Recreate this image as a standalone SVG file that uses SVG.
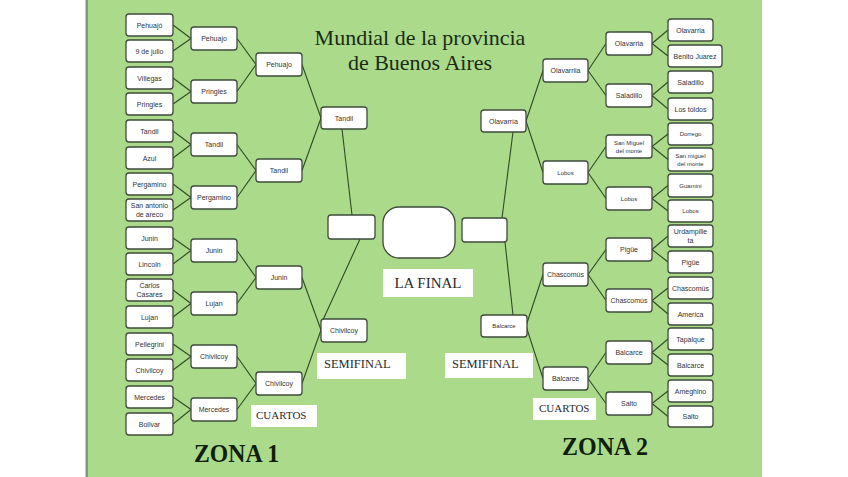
<svg xmlns="http://www.w3.org/2000/svg" width="848" height="477" viewBox="0 0 848 477">
<style>
.b{fill:#fff;stroke:#3f4b3c;stroke-width:1.3}
.t{font-family:"Liberation Sans",Arial,sans-serif;font-size:7px;fill:#333;text-anchor:middle}
.s{font-size:6px}
.c line{stroke:#2f4a24;stroke-width:1.1}
.lb{fill:#fff}
.sf{font-family:"Liberation Serif","Times New Roman",serif;fill:#2a2a2a}
.z{font-family:"Liberation Serif","Times New Roman",serif;font-weight:bold;fill:#0f1f0a}
</style>
<rect x="0" y="0" width="848" height="477" fill="#fff"/>
<rect x="86" y="0" width="676" height="477" fill="#abda8b"/>
<rect x="85.5" y="0" width="2.5" height="477" fill="#7d9a84"/>

<g id="title" class="sf" font-size="22" text-anchor="middle" fill="#1a2a14">
<text x="420" y="45" style="fill:#1a2a14">Mundial de la provincia</text>
<text x="420" y="70" style="fill:#1a2a14">de Buenos Aires</text>
</g>

<g id="connectors" class="c">
<line x1="173" y1="25" x2="191" y2="38.5"/><line x1="173" y1="51" x2="191" y2="38.5"/>
<line x1="173" y1="78" x2="191" y2="91.5"/><line x1="173" y1="104" x2="191" y2="91.5"/>
<line x1="173" y1="131" x2="191" y2="144.5"/><line x1="173" y1="158" x2="191" y2="144.5"/>
<line x1="173" y1="184" x2="191" y2="197.5"/><line x1="173" y1="210" x2="191" y2="197.5"/>
<line x1="173" y1="238" x2="191" y2="250.5"/><line x1="173" y1="264" x2="191" y2="250.5"/>
<line x1="173" y1="290" x2="191" y2="303.5"/><line x1="173" y1="317" x2="191" y2="303.5"/>
<line x1="173" y1="344" x2="191" y2="356.5"/><line x1="173" y1="370" x2="191" y2="356.5"/>
<line x1="173" y1="397" x2="191" y2="409.5"/><line x1="173" y1="424" x2="191" y2="409.5"/>
<line x1="237" y1="38.5" x2="256" y2="64.5"/><line x1="237" y1="91.5" x2="256" y2="64.5"/>
<line x1="237" y1="144.5" x2="256" y2="170.5"/><line x1="237" y1="197.5" x2="256" y2="170.5"/>
<line x1="237" y1="250.5" x2="256" y2="277.5"/><line x1="237" y1="303.5" x2="256" y2="277.5"/>
<line x1="237" y1="356.5" x2="256" y2="383.5"/><line x1="237" y1="409.5" x2="256" y2="383.5"/>
<line x1="302" y1="64.5" x2="321" y2="118"/><line x1="302" y1="170.5" x2="321" y2="118"/>
<line x1="302" y1="277.5" x2="321" y2="330"/><line x1="302" y1="383.5" x2="321" y2="330"/>
<line x1="342" y1="129" x2="352" y2="215"/><line x1="322" y1="322" x2="360" y2="239"/>
<line x1="652" y1="43.5" x2="668" y2="30"/><line x1="652" y1="43.5" x2="668" y2="56"/>
<line x1="652" y1="95.5" x2="668" y2="82"/><line x1="652" y1="95.5" x2="668" y2="109"/>
<line x1="652" y1="146.5" x2="668" y2="134"/><line x1="652" y1="146.5" x2="668" y2="159.5"/>
<line x1="652" y1="198.5" x2="668" y2="185.5"/><line x1="652" y1="198.5" x2="668" y2="211"/>
<line x1="652" y1="249.5" x2="668" y2="236"/><line x1="652" y1="249.5" x2="668" y2="262"/>
<line x1="652" y1="300.5" x2="668" y2="288"/><line x1="652" y1="300.5" x2="668" y2="314"/>
<line x1="652" y1="352.5" x2="668" y2="339"/><line x1="652" y1="352.5" x2="668" y2="365"/>
<line x1="652" y1="403.5" x2="668" y2="391"/><line x1="652" y1="403.5" x2="668" y2="416.5"/>
<line x1="588" y1="70.5" x2="606" y2="43.5"/><line x1="588" y1="70.5" x2="606" y2="95.5"/>
<line x1="588" y1="172.5" x2="606" y2="146.5"/><line x1="588" y1="172.5" x2="606" y2="198.5"/>
<line x1="588" y1="274.5" x2="606" y2="249.5"/><line x1="588" y1="274.5" x2="606" y2="300.5"/>
<line x1="588" y1="378.5" x2="606" y2="352.5"/><line x1="588" y1="378.5" x2="606" y2="403.5"/>
<line x1="526" y1="121" x2="543" y2="70.5"/><line x1="526" y1="121" x2="543" y2="172.5"/>
<line x1="526" y1="326" x2="543" y2="274.5"/><line x1="526" y1="326" x2="543" y2="378.5"/>
<line x1="513" y1="132" x2="502" y2="218"/><line x1="505" y1="242" x2="513" y2="315"/>
</g>

<!-- Zona 1 leaves -->
<g id="l1"><rect class="b" x="126" y="14" width="47" height="22" rx="3"/><text class="t" x="149.5" y="27.5">Pehuajó</text></g>
<g id="l2"><rect class="b" x="126" y="40" width="47" height="22" rx="3"/><text class="t" x="149.5" y="53.5">9 de julio</text></g>
<g id="l3"><rect class="b" x="126" y="67" width="47" height="22" rx="3"/><text class="t" x="149.5" y="80.5">Villegas</text></g>
<g id="l4"><rect class="b" x="126" y="93" width="47" height="22" rx="3"/><text class="t" x="149.5" y="106.5">Pringles</text></g>
<g id="l5"><rect class="b" x="126" y="120" width="47" height="22" rx="3"/><text class="t" x="149.5" y="133.5">Tandil</text></g>
<g id="l6"><rect class="b" x="126" y="147" width="47" height="22" rx="3"/><text class="t" x="149.5" y="160.5">Azul</text></g>
<g id="l7"><rect class="b" x="126" y="173" width="47" height="22" rx="3"/><text class="t" x="149.5" y="186.5">Pergamino</text></g>
<g id="l8"><rect class="b" x="126" y="199" width="47" height="22" rx="3"/><text class="t" x="149.5" y="208">San antonio</text><text class="t" x="149.5" y="217">de areco</text></g>
<g id="l9"><rect class="b" x="126" y="227" width="47" height="22" rx="3"/><text class="t" x="149.5" y="240.5">Junin</text></g>
<g id="l10"><rect class="b" x="126" y="253" width="47" height="22" rx="3"/><text class="t" x="149.5" y="266.5">Lincoln</text></g>
<g id="l11"><rect class="b" x="126" y="279" width="47" height="22" rx="3"/><text class="t" x="149.5" y="288">Carlos</text><text class="t" x="149.5" y="297">Casares</text></g>
<g id="l12"><rect class="b" x="126" y="306" width="47" height="22" rx="3"/><text class="t" x="149.5" y="319.5">Lujan</text></g>
<g id="l13"><rect class="b" x="126" y="333" width="47" height="22" rx="3"/><text class="t" x="149.5" y="346.5">Pellegrini</text></g>
<g id="l14"><rect class="b" x="126" y="359" width="47" height="22" rx="3"/><text class="t" x="149.5" y="372.5">Chivilcoy</text></g>
<g id="l15"><rect class="b" x="126" y="386" width="47" height="22" rx="3"/><text class="t" x="149.5" y="399.5">Mercedes</text></g>
<g id="l16"><rect class="b" x="126" y="413" width="47" height="22" rx="3"/><text class="t" x="149.5" y="426.5">Bolivar</text></g>
<!-- Zona 1 round 2 -->
<g id="la1"><rect class="b" x="191" y="27" width="46" height="23" rx="3"/><text class="t" x="214" y="41">Pehuajo</text></g>
<g id="la2"><rect class="b" x="191" y="80" width="46" height="23" rx="3"/><text class="t" x="214" y="94">Pringles</text></g>
<g id="la3"><rect class="b" x="191" y="133" width="46" height="23" rx="3"/><text class="t" x="214" y="147">Tandil</text></g>
<g id="la4"><rect class="b" x="191" y="186" width="46" height="23" rx="3"/><text class="t" x="214" y="200">Pergamino</text></g>
<g id="la5"><rect class="b" x="191" y="239" width="46" height="23" rx="3"/><text class="t" x="214" y="253">Junin</text></g>
<g id="la6"><rect class="b" x="191" y="292" width="46" height="23" rx="3"/><text class="t" x="214" y="306">Lujan</text></g>
<g id="la7"><rect class="b" x="191" y="345" width="46" height="23" rx="3"/><text class="t" x="214" y="359">Chivilcoy</text></g>
<g id="la8"><rect class="b" x="191" y="398" width="46" height="23" rx="3"/><text class="t" x="214" y="412">Mercedes</text></g>
<!-- Zona 1 round 3 -->
<g id="lb1"><rect class="b" x="256" y="53" width="46" height="23" rx="3"/><text class="t" x="279" y="67">Pehuajo</text></g>
<g id="lb2"><rect class="b" x="256" y="159" width="46" height="23" rx="3"/><text class="t" x="279" y="173">Tandil</text></g>
<g id="lb3"><rect class="b" x="256" y="266" width="46" height="23" rx="3"/><text class="t" x="279" y="280">Junin</text></g>
<g id="lb4"><rect class="b" x="256" y="372" width="46" height="23" rx="3"/><text class="t" x="279" y="386">Chivilcoy</text></g>
<!-- Zona 1 round 4 -->
<g id="lc1"><rect class="b" x="321" y="107" width="46" height="22" rx="3"/><text class="t" x="344" y="120.5">Tandil</text></g>
<g id="lc2"><rect class="b" x="321" y="319" width="46" height="23" rx="3"/><text class="t" x="344" y="333">Chivilcoy</text></g>

<!-- Finals -->
<g id="semi1"><rect class="b" x="328" y="215" width="47" height="24" rx="3"/></g>
<g id="final"><rect class="b" x="383" y="207" width="72" height="51" rx="16"/></g>
<g id="semi2"><rect class="b" x="462" y="218" width="45" height="24" rx="3"/></g>

<!-- Zona 2 leaves -->
<g id="r1"><rect class="b" x="668" y="19" width="45" height="22" rx="3"/><text class="t" x="690.5" y="32.5">Olavarria</text></g>
<g id="r2"><rect class="b" x="668" y="45" width="54" height="22" rx="3"/><text class="t" x="695" y="58.5">Benito Juarez</text></g>
<g id="r3"><rect class="b" x="668" y="71" width="45" height="22" rx="3"/><text class="t" x="690.5" y="84.5">Saladillo</text></g>
<g id="r4"><rect class="b" x="668" y="98" width="45" height="22" rx="3"/><text class="t" x="690.5" y="111.5">Los toldos</text></g>
<g id="r5"><rect class="b" x="668" y="123" width="45" height="22" rx="3"/><text class="t s" x="690.5" y="136">Dorrego</text></g>
<g id="r6"><rect class="b" x="668" y="148" width="45" height="23" rx="3"/><text class="t s" x="690.5" y="157.5">San miguel</text><text class="t s" x="690.5" y="166">del monte</text></g>
<g id="r7"><rect class="b" x="668" y="174" width="45" height="23" rx="3"/><text class="t s" x="690.5" y="187.5">Guamini</text></g>
<g id="r8"><rect class="b" x="668" y="200" width="45" height="22" rx="3"/><text class="t s" x="690.5" y="213">Lobos</text></g>
<g id="r9"><rect class="b" x="668" y="225" width="45" height="22" rx="3"/><text class="t" x="690.5" y="234">Urdampille</text><text class="t" x="690.5" y="243">ta</text></g>
<g id="r10"><rect class="b" x="668" y="251" width="45" height="22" rx="3"/><text class="t" x="690.5" y="264.5">Pigüe</text></g>
<g id="r11"><rect class="b" x="668" y="277" width="45" height="22" rx="3"/><text class="t" x="690.5" y="290.5">Chascomús</text></g>
<g id="r12"><rect class="b" x="668" y="303" width="45" height="22" rx="3"/><text class="t" x="690.5" y="316.5">America</text></g>
<g id="r13"><rect class="b" x="668" y="328" width="45" height="22" rx="3"/><text class="t" x="690.5" y="341.5">Tapalque</text></g>
<g id="r14"><rect class="b" x="668" y="354" width="45" height="22" rx="3"/><text class="t" x="690.5" y="367.5">Balcarce</text></g>
<g id="r15"><rect class="b" x="668" y="380" width="45" height="22" rx="3"/><text class="t" x="690.5" y="393.5">Ameghino</text></g>
<g id="r16"><rect class="b" x="668" y="406" width="45" height="21" rx="3"/><text class="t" x="690.5" y="419">Salto</text></g>
<!-- Zona 2 round 2 -->
<g id="ra1"><rect class="b" x="606" y="32" width="46" height="23" rx="3"/><text class="t" x="629" y="46">Olavarria</text></g>
<g id="ra2"><rect class="b" x="606" y="84" width="46" height="23" rx="3"/><text class="t" x="629" y="98">Saladillo</text></g>
<g id="ra3"><rect class="b" x="606" y="135" width="46" height="23" rx="3"/><text class="t s" x="629" y="144.5">San Miguel</text><text class="t s" x="629" y="153">del monte</text></g>
<g id="ra4"><rect class="b" x="606" y="187" width="46" height="23" rx="3"/><text class="t s" x="629" y="200.5">Lobos</text></g>
<g id="ra5"><rect class="b" x="606" y="238" width="46" height="23" rx="3"/><text class="t" x="629" y="252">Pigüe</text></g>
<g id="ra6"><rect class="b" x="606" y="289" width="46" height="23" rx="3"/><text class="t" x="629" y="303">Chascomús</text></g>
<g id="ra7"><rect class="b" x="606" y="341" width="46" height="23" rx="3"/><text class="t" x="629" y="355">Balcarce</text></g>
<g id="ra8"><rect class="b" x="606" y="392" width="46" height="23" rx="3"/><text class="t" x="629" y="406">Salto</text></g>
<!-- Zona 2 round 3 -->
<g id="rb1"><rect class="b" x="543" y="59" width="45" height="23" rx="3"/><text class="t" x="565.5" y="73">Olavarriia</text></g>
<g id="rb2"><rect class="b" x="543" y="161" width="45" height="23" rx="3"/><text class="t s" x="565.5" y="174.5">Lobos</text></g>
<g id="rb3"><rect class="b" x="543" y="263" width="45" height="23" rx="3"/><text class="t" x="565.5" y="277">Chascomús</text></g>
<g id="rb4"><rect class="b" x="543" y="367" width="45" height="23" rx="3"/><text class="t" x="565.5" y="381">Balcarce</text></g>
<!-- Zona 2 round 4 -->
<g id="rc1"><rect class="b" x="481" y="110" width="45" height="22" rx="3"/><text class="t" x="503.5" y="123.5">Olavarría</text></g>
<g id="rc2"><rect class="b" x="481" y="315" width="46" height="22" rx="3"/><text class="t s" x="504" y="328">Balcarce</text></g>

<!-- Labels -->
<g id="lafinal"><rect class="lb" x="383" y="269" width="90" height="28"/><text class="sf" x="428" y="288" font-size="15" text-anchor="middle">LA FINAL</text></g>
<g id="semifinal1"><rect class="lb" x="317" y="353" width="89" height="26"/><text class="sf" x="324" y="368" font-size="12.5">SEMIFINAL</text></g>
<g id="semifinal2"><rect class="lb" x="445" y="353" width="88" height="25"/><text class="sf" x="452" y="368" font-size="12.5">SEMIFINAL</text></g>
<g id="cuartos1"><rect class="lb" x="251" y="405" width="66" height="22"/><text class="sf" x="256" y="419" font-size="11">CUARTOS</text></g>
<g id="cuartos2"><rect class="lb" x="533" y="398" width="63" height="22"/><text class="sf" x="539" y="412" font-size="11">CUARTOS</text></g>
<g id="zona1"><text class="z" x="194" y="462" font-size="26" textLength="85" lengthAdjust="spacingAndGlyphs">ZONA 1</text></g>
<g id="zona2"><text class="z" x="562" y="455" font-size="26" textLength="86" lengthAdjust="spacingAndGlyphs">ZONA 2</text></g>
</svg>
